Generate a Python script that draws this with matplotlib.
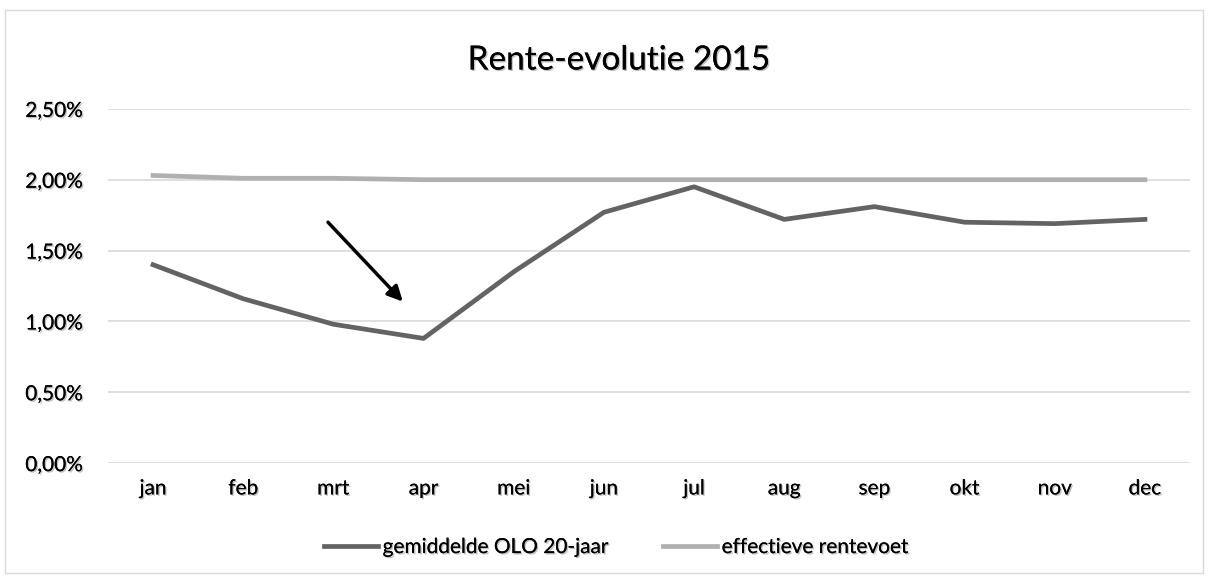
import matplotlib.pyplot as plt
import matplotlib.patheffects as pe
from matplotlib.patches import Rectangle
from matplotlib.ticker import FuncFormatter

plt.rcParams['font.family'] = ['Lato', 'DejaVu Sans']

maanden = ["jan", "feb", "mrt", "apr", "mei", "jun", "jul", "aug", "sep", "okt", "nov", "dec"]
olo_20j = [1.40, 1.16, 0.98, 0.88, 1.35, 1.77, 1.95, 1.72, 1.81, 1.70, 1.69, 1.72]
eff_rente = [2.03, 2.01, 2.01, 2.00, 2.00, 2.00, 2.00, 2.00, 2.00, 2.00, 2.00, 2.00]

shadow = [pe.withSimplePatchShadow(offset=(1, -1), shadow_rgbFace='#000000', alpha=0.25), pe.Normal()]

fig = plt.figure(figsize=(12.09, 5.76), dpi=100)
fig.patches.append(Rectangle((0.004, 0.005), 0.991, 0.977, transform=fig.transFigure,
                             fill=False, edgecolor='#d9d9d9', linewidth=1))

ax = fig.add_axes([0.0893, 0.196, 0.895, 0.615])
x = range(len(maanden))
ax.plot(x, olo_20j, color='#636363', linewidth=3.4, label='gemiddelde OLO 20-jaar')
ax.plot(x, eff_rente, color='#b0b0b0', linewidth=3.4, label='effectieve rentevoet')

ax.set_xlim(-0.5, len(maanden) - 0.5)
ax.set_ylim(0, 2.5)
ax.set_yticks([0, 0.5, 1.0, 1.5, 2.0, 2.5])
ax.yaxis.set_major_formatter(FuncFormatter(lambda v, p: f"{v:.2f}%".replace('.', ',')))
ax.set_xticks(list(x))
ax.set_xticklabels(maanden)
ax.grid(axis='y', color='#d9d9d9', linewidth=1.2)
ax.set_axisbelow(True)
for s in ax.spines.values():
    s.set_visible(False)
ax.tick_params(length=0, labelsize=15, pad=11)
ax.tick_params(axis='y', pad=18)
for lbl in ax.get_xticklabels() + ax.get_yticklabels():
    lbl.set_path_effects(shadow)

# pijl naar het dieptepunt
ax.annotate('', xy=(2.77, 1.14), xytext=(1.94, 1.70),
            arrowprops=dict(arrowstyle='-|>,head_length=0.9,head_width=0.45', color='black',
                            linewidth=2.5, shrinkA=0, shrinkB=0))

fig.text(0.512, 0.895, 'Rente-evolutie 2015', ha='center', va='center', fontsize=24,
         path_effects=shadow)

leg = ax.legend(loc='center', bbox_to_anchor=(0.47, -0.237), ncol=2, frameon=False,
                fontsize=15, handlelength=2.6, handletextpad=0.2, columnspacing=2.6)
for t in leg.get_texts():
    t.set_path_effects(shadow)

fig.savefig('out.png', dpi=100)
